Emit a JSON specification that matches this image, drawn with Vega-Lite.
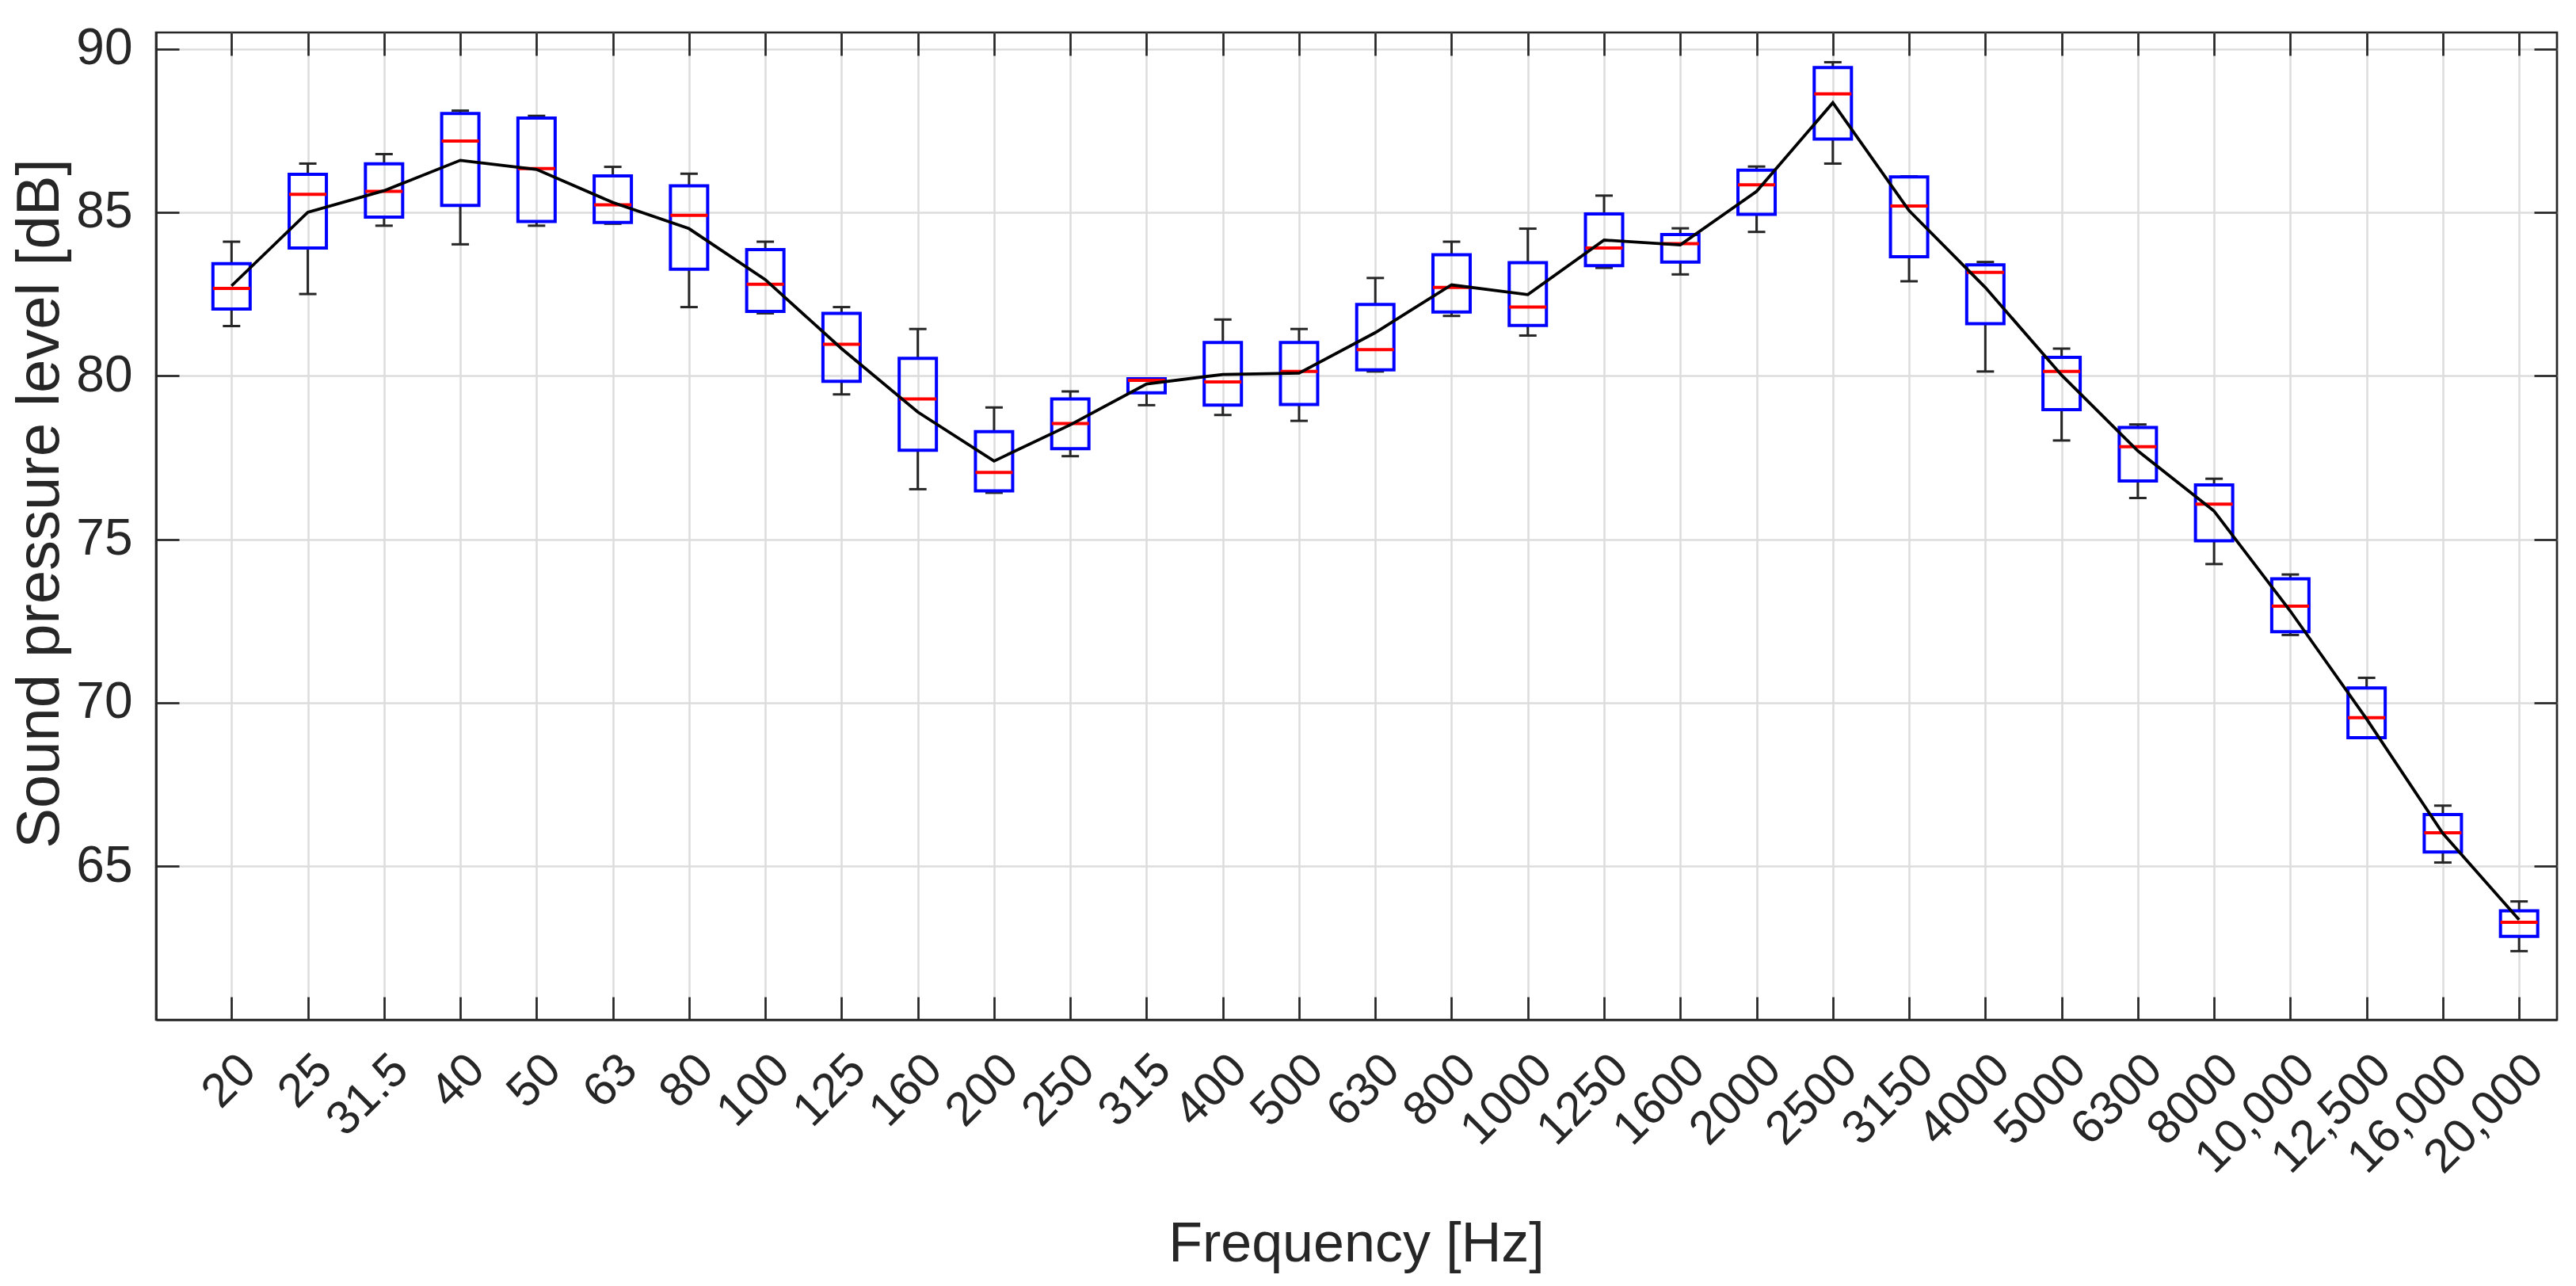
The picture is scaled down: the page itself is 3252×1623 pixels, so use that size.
{
  "$schema": "https://vega.github.io/schema/vega-lite/v6.json",
  "width": 3031,
  "height": 1246,
  "autosize": {"type": "none"},
  "padding": {"left": 197, "top": 41, "right": 24, "bottom": 336},
  "background": "white",
  "config": {
    "view": {"stroke": "#262626", "strokeWidth": 2.7},
    "font": "Liberation Sans"
  },
  "data": {
    "values": [
      {"i": 1, "f": "20", "lo": 81.52, "q1": 82.04, "med": 82.67, "q3": 83.43, "hi": 84.10, "mean": 82.75},
      {"i": 2, "f": "25", "lo": 82.50, "q1": 83.91, "med": 85.55, "q3": 86.16, "hi": 86.49, "mean": 85.0},
      {"i": 3, "f": "31.5", "lo": 84.59, "q1": 84.85, "med": 85.64, "q3": 86.48, "hi": 86.78, "mean": 85.66},
      {"i": 4, "f": "40", "lo": 84.02, "q1": 85.21, "med": 87.18, "q3": 88.02, "hi": 88.11, "mean": 86.59},
      {"i": 5, "f": "50", "lo": 84.59, "q1": 84.72, "med": 86.34, "q3": 87.88, "hi": 87.95, "mean": 86.31},
      {"i": 6, "f": "63", "lo": 84.65, "q1": 84.69, "med": 85.23, "q3": 86.11, "hi": 86.39, "mean": 85.30},
      {"i": 7, "f": "80", "lo": 82.10, "q1": 83.26, "med": 84.91, "q3": 85.81, "hi": 86.18, "mean": 84.5},
      {"i": 8, "f": "100", "lo": 81.91, "q1": 81.97, "med": 82.80, "q3": 83.86, "hi": 84.10, "mean": 82.94},
      {"i": 9, "f": "125", "lo": 79.43, "q1": 79.83, "med": 80.96, "q3": 81.91, "hi": 82.10, "mean": 80.83},
      {"i": 10, "f": "160", "lo": 76.53, "q1": 77.72, "med": 79.29, "q3": 80.53, "hi": 81.43, "mean": 78.89},
      {"i": 11, "f": "200", "lo": 76.42, "q1": 76.48, "med": 77.04, "q3": 78.29, "hi": 79.03, "mean": 77.39},
      {"i": 12, "f": "250", "lo": 77.54, "q1": 77.77, "med": 78.54, "q3": 79.29, "hi": 79.52, "mean": 78.5},
      {"i": 13, "f": "315", "lo": 79.10, "q1": 79.48, "med": 79.86, "q3": 79.91, "hi": 79.91, "mean": 79.75},
      {"i": 14, "f": "400", "lo": 78.80, "q1": 79.10, "med": 79.81, "q3": 81.02, "hi": 81.72, "mean": 80.04},
      {"i": 15, "f": "500", "lo": 78.62, "q1": 79.12, "med": 80.13, "q3": 81.02, "hi": 81.43, "mean": 80.08},
      {"i": 16, "f": "630", "lo": 80.13, "q1": 80.18, "med": 80.80, "q3": 82.18, "hi": 82.99, "mean": 81.32},
      {"i": 17, "f": "800", "lo": 81.83, "q1": 81.95, "med": 82.70, "q3": 83.70, "hi": 84.10, "mean": 82.78},
      {"i": 18, "f": "1000", "lo": 81.23, "q1": 81.54, "med": 82.10, "q3": 83.46, "hi": 84.50, "mean": 82.48},
      {"i": 19, "f": "1250", "lo": 83.30, "q1": 83.37, "med": 83.91, "q3": 84.95, "hi": 85.51, "mean": 84.15},
      {"i": 20, "f": "1600", "lo": 83.10, "q1": 83.48, "med": 84.04, "q3": 84.32, "hi": 84.51, "mean": 84.0},
      {"i": 21, "f": "2000", "lo": 84.40, "q1": 84.94, "med": 85.84, "q3": 86.29, "hi": 86.40, "mean": 85.64},
      {"i": 22, "f": "2500", "lo": 86.49, "q1": 87.24, "med": 88.62, "q3": 89.43, "hi": 89.59, "mean": 88.35},
      {"i": 23, "f": "3150", "lo": 82.89, "q1": 83.64, "med": 85.19, "q3": 86.08, "hi": 86.10, "mean": 85.05},
      {"i": 24, "f": "4000", "lo": 80.13, "q1": 81.59, "med": 83.16, "q3": 83.39, "hi": 83.48, "mean": 82.7},
      {"i": 25, "f": "5000", "lo": 78.02, "q1": 78.96, "med": 80.13, "q3": 80.56, "hi": 80.83, "mean": 80.02},
      {"i": 26, "f": "6300", "lo": 76.26, "q1": 76.78, "med": 77.83, "q3": 78.42, "hi": 78.51, "mean": 77.7},
      {"i": 27, "f": "8000", "lo": 74.24, "q1": 74.95, "med": 76.07, "q3": 76.66, "hi": 76.85, "mean": 75.86},
      {"i": 28, "f": "10,000", "lo": 72.07, "q1": 72.17, "med": 72.95, "q3": 73.79, "hi": 73.92, "mean": 72.8},
      {"i": 29, "f": "12,500", "lo": 68.93, "q1": 68.93, "med": 69.54, "q3": 70.45, "hi": 70.76, "mean": 69.5},
      {"i": 30, "f": "16,000", "lo": 65.11, "q1": 65.43, "med": 66.02, "q3": 66.58, "hi": 66.85, "mean": 66.0},
      {"i": 31, "f": "20,000", "lo": 62.40, "q1": 62.85, "med": 63.28, "q3": 63.63, "hi": 63.92, "mean": 63.36}
    ]
  },
  "resolve": {"axis": {"x": "independent", "y": "independent"}},
  "layer": [
    {
      "mark": {"type": "rule", "color": "#262626", "strokeWidth": 3},
      "encoding": {
        "x": {"field": "i", "type": "quantitative",
          "scale": {"domain": [0.062, 31.445], "nice": false, "zero": false},
          "axis": {"orient": "top", "values": [1,2,3,4,5,6,7,8,9,10,11,12,13,14,15,16,17,18,19,20,21,22,23,24,25,26,27,28,29,30,31],
            "labels": false, "grid": false, "domain": false, "ticks": true, "tickSize": -29, "tickWidth": 2.7, "tickColor": "#262626", "title": null}},
        "y": {"field": "q3", "type": "quantitative",
          "scale": {"domain": [60.3, 90.5], "nice": false, "zero": false},
          "axis": {"orient": "right", "values": [65, 70, 75, 80, 85, 90],
            "labels": false, "grid": false, "domain": false, "ticks": true, "tickSize": -29, "tickWidth": 2.7, "tickColor": "#262626", "title": null}},
        "y2": {"field": "hi"}
      }
    },
    {
      "mark": {"type": "rule", "color": "#262626", "strokeWidth": 3},
      "encoding": {
        "x": {"field": "i", "type": "quantitative", "axis": null},
        "y": {"field": "lo", "type": "quantitative", "axis": null},
        "y2": {"field": "q1"}
      }
    },
    {
      "mark": {"type": "tick", "orient": "horizontal", "color": "#262626", "size": 22, "thickness": 3, "opacity": 1},
      "encoding": {
        "x": {"field": "i", "type": "quantitative", "axis": null},
        "y": {"field": "hi", "type": "quantitative", "axis": null}
      }
    },
    {
      "mark": {"type": "tick", "orient": "horizontal", "color": "#262626", "size": 22, "thickness": 3, "opacity": 1},
      "encoding": {
        "x": {"field": "i", "type": "quantitative", "axis": null},
        "y": {"field": "lo", "type": "quantitative", "axis": null}
      }
    },
    {
      "mark": {"type": "bar", "size": 47, "fill": "white", "fillOpacity": 0, "stroke": "#0000ff", "strokeWidth": 4},
      "encoding": {
        "x": {"field": "i", "type": "quantitative", "axis": null},
        "y": {"field": "q1", "type": "quantitative", "axis": null},
        "y2": {"field": "q3"}
      }
    },
    {
      "mark": {"type": "tick", "orient": "horizontal", "color": "#ff0000", "size": 47, "thickness": 4, "opacity": 1},
      "encoding": {
        "x": {"field": "i", "type": "quantitative", "axis": null},
        "y": {"field": "med", "type": "quantitative", "axis": null}
      }
    },
    {
      "mark": {"type": "line", "color": "#000000", "strokeWidth": 3.8},
      "encoding": {
        "x": {"field": "i", "type": "quantitative",
          "axis": {"orient": "bottom", "values": [1,2,3,4,5,6,7,8,9,10,11,12,13,14,15,16,17,18,19,20,21,22,23,24,25,26,27,28,29,30,31],
            "labelExpr": "['20','25','31.5','40','50','63','80','100','125','160','200','250','315','400','500','630','800','1000','1250','1600','2000','2500','3150','4000','5000','6300','8000','10,000','12,500','16,000','20,000'][datum.value - 1]",
            "labelAngle": -45, "labelFontSize": 60, "labelColor": "#262626", "labelFont": "Liberation Sans", "labelLimit": 0,
            "labelPadding": 62, "labelOverlap": false, "labelFlush": false, "labelBound": false,
            "ticks": true, "tickSize": -29, "tickWidth": 2.7, "tickColor": "#262626",
            "domain": true, "domainColor": "#262626", "domainWidth": 2.7,
            "grid": true, "gridColor": "#dcdcdc", "gridWidth": 2.5,
            "title": "Frequency [Hz]", "titleFontSize": 70, "titleFontWeight": "normal", "titleColor": "#262626", "titleFont": "Liberation Sans",
            "titleX": 1515, "titleY": 304, "titleAlign": "center", "titleBaseline": "alphabetic"}},
        "y": {"field": "mean", "type": "quantitative",
          "axis": {"orient": "left", "values": [65, 70, 75, 80, 85, 90],
            "labelFontSize": 64, "labelColor": "#262626", "labelFont": "Liberation Sans", "labelPadding": 59,
            "ticks": true, "tickSize": -29, "tickWidth": 2.7, "tickColor": "#262626",
            "domain": true, "domainColor": "#262626", "domainWidth": 2.7,
            "grid": true, "gridColor": "#dcdcdc", "gridWidth": 2.5,
            "title": "Sound pressure level [dB]", "titleFontSize": 76, "titleFontWeight": "normal", "titleColor": "#262626", "titleFont": "Liberation Sans",
            "titleX": -124, "titleY": 594, "titleAngle": -90, "titleAlign": "center", "titleBaseline": "alphabetic"}}
      }
    }
  ]
}
